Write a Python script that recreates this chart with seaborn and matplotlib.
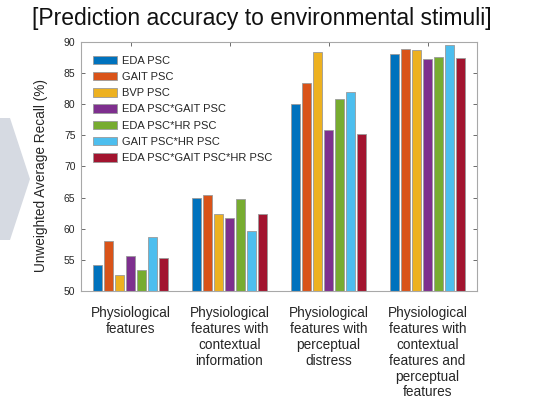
import numpy as np
import pandas as pd
import matplotlib
matplotlib.use("Agg")
import matplotlib.pyplot as plt
import seaborn as sns
from matplotlib.patches import Polygon, Patch

sns.set_theme(style="white")
plt.rcParams['font.family'] = ['Liberation Sans', 'DejaVu Sans']

# ---- data ----
conditions = [
    "Physiological\nfeatures",
    "Physiological\nfeatures with\ncontextual\ninformation",
    "Physiological\nfeatures with\nperceptual\ndistress",
    "Physiological\nfeatures with\ncontextual\nfeatures and\nperceptual\nfeatures",
]
models = ["EDA PSC", "GAIT PSC", "BVP PSC", "EDA PSC*GAIT PSC",
          "EDA PSC*HR PSC", "GAIT PSC*HR PSC", "EDA PSC*GAIT PSC*HR PSC"]
eda = [54.1, 65.0, 80.1, 88.0]
gait = [58.0, 65.5, 83.4, 88.8]
bvp = [52.6, 62.3, 88.4, 88.7]
eda_gait = [55.7, 61.8, 75.9, 87.3]
eda_hr = [53.4, 64.8, 80.8, 87.6]
gait_hr = [58.6, 59.6, 82.0, 89.5]
eda_gait_hr = [55.3, 62.3, 75.3, 87.5]
colors = ["#0072BD", "#D95319", "#EDB120", "#7E2F8E", "#77AC30", "#4DBEEE", "#A2142F"]

series = [eda, gait, bvp, eda_gait, eda_hr, gait_hr, eda_gait_hr]
rows = []
for m, vals in zip(models, series):
    for c, v in zip(conditions, vals):
        rows.append({"condition": c, "model": m, "uar": v})
df = pd.DataFrame(rows)

fig = plt.figure(figsize=(5.37, 4.0), dpi=100)
ax = fig.add_axes([81/537, 1-291/400, (477-81)/537, (291-42)/400])

sns.barplot(data=df, x="condition", y="uar", hue="model", order=conditions,
            hue_order=models, palette=colors, width=0.78, gap=0.16,
            edgecolor="#9a9a9a", linewidth=0.6, saturation=1, ax=ax,
            errorbar=None, legend=False)

ax.set_ylim(50, 90)
ax.set_xlim(-0.5, 3.5)
ax.set_yticks(np.arange(50, 91, 5))
ax.set_xlabel("")
ax.set_ylabel("Unweighted Average Recall (%)", fontsize=9.8, color="#262626", labelpad=4)
ax.yaxis.set_label_coords(-0.083, 0.464)
ax.tick_params(axis="y", labelsize=7.5, colors="#555555", labelcolor="#262626",
               direction="in", length=3, width=0.6, left=True, right=True, pad=4)
ax.tick_params(axis="x", labelsize=9.8, colors="#555555", labelcolor="#262626",
               direction="in", length=3, width=0.6, top=True, bottom=True, pad=10.5)
for lab in ax.get_xticklabels():
    lab.set_verticalalignment("top")
    lab.set_linespacing(1.18)
for s in ax.spines.values():
    s.set_color("#a8a8a8")
    s.set_linewidth(0.8)

handles = [Patch(facecolor=c, edgecolor="#9a9a9a", linewidth=0.6) for c in colors]
ax.legend(handles, models, loc="upper left", bbox_to_anchor=(0.030, 0.945),
          frameon=False, fontsize=8, handlelength=2.15, handleheight=0.8,
          labelspacing=0.55, handletextpad=0.5, borderpad=0, borderaxespad=0)

fig.text(0.487, 0.955, "[Prediction accuracy to environmental stimuli]",
         ha="center", va="center", fontsize=16.5, color="#111111")

# decorative slide arrow on the left
arrow = Polygon([(0, 1-118/400), (10/537, 1-118/400), (30/537, 1-179/400),
                 (10/537, 1-240/400), (0, 1-240/400)], closed=True,
                transform=fig.transFigure, facecolor="#d6dae2", edgecolor="none")
fig.patches.append(arrow)

fig.savefig("out.png", dpi=100)
